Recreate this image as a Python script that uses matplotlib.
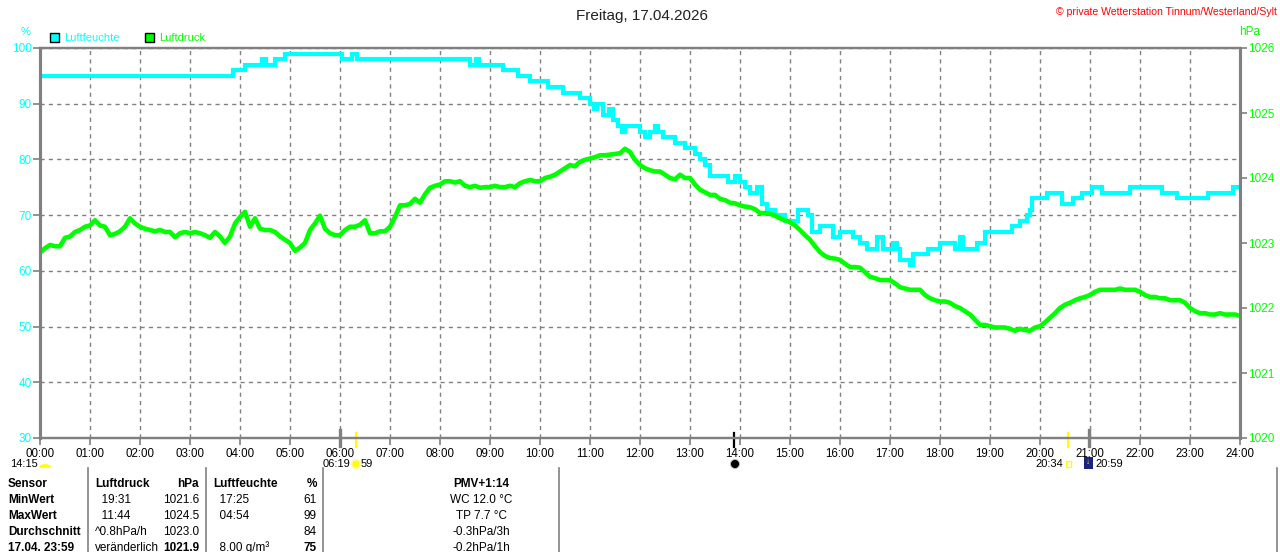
import numpy as np
import matplotlib
matplotlib.use("Agg")
import matplotlib.pyplot as plt
from matplotlib.patches import Rectangle, Ellipse, Wedge
from matplotlib.transforms import blended_transform_factory

plt.rcParams["font.family"] = ["Liberation Sans", "DejaVu Sans"]

W, H = 1280, 552
CYAN = "#00ffff"
GREEN = "#00ff00"
GRAY = "#808080"

# Luftfeuchte (%), changes of the logged value, hour of day
hum_hours = [0.00, 3.86, 4.10, 4.44, 4.52, 4.70, 4.90, 6.04, 6.24, 6.34,
             8.60, 8.72, 8.78, 9.26, 9.56, 9.80, 10.16, 10.46, 10.80, 11.00,
             11.08, 11.14, 11.26, 11.38, 11.46, 11.56, 11.64, 11.70, 12.00, 12.10,
             12.20, 12.30, 12.36, 12.46, 12.70, 12.90, 13.10, 13.20, 13.30, 13.40,
             13.76, 13.90, 14.00, 14.10, 14.20, 14.34, 14.44, 14.54, 14.70, 14.90,
             15.16, 15.36, 15.44, 15.60, 15.86, 16.00, 16.26, 16.40, 16.54, 16.74,
             16.86, 17.06, 17.14, 17.20, 17.40, 17.46, 17.60, 17.76, 18.00, 18.30,
             18.40, 18.46, 18.74, 18.90, 19.44, 19.60, 19.74, 19.80, 19.84, 20.14,
             20.44, 20.66, 20.84, 21.04, 21.24, 21.80, 22.44, 22.74, 23.36, 23.86,
             24.00]
hum_vals = [95, 96, 97, 98, 97, 98, 99, 98, 99, 98,
            97, 98, 97, 96, 95, 94, 93, 92, 91, 90,
            89, 90, 88, 89, 87, 86, 85, 86, 85, 84,
            85, 86, 85, 84, 83, 82, 81, 80, 79, 77,
            76, 77, 76, 75, 74, 75, 72, 71, 70, 69,
            71, 70, 67, 68, 66, 67, 66, 65, 64, 66,
            64, 65, 64, 62, 61, 63, 63, 64, 65, 64,
            66, 64, 65, 67, 68, 69, 70, 71, 73, 74,
            72, 73, 74, 75, 74, 75, 74, 73, 74, 75,
            75]

# Luftdruck (hPa), one reading every 6 minutes
press_hours = np.arange(0, 241) / 10
press_vals = [
    1022.85, 1022.92, 1022.97, 1022.95, 1022.95, 1023.08, 1023.10, 1023.17, 1023.20, 1023.25,
    1023.27, 1023.35, 1023.27, 1023.25, 1023.12, 1023.14, 1023.18, 1023.25, 1023.38, 1023.30,
    1023.25, 1023.22, 1023.20, 1023.18, 1023.20, 1023.17, 1023.17, 1023.09, 1023.15, 1023.17,
    1023.15, 1023.17, 1023.15, 1023.12, 1023.08, 1023.17, 1023.10, 1023.00, 1023.10, 1023.30,
    1023.40, 1023.48, 1023.25, 1023.38, 1023.22, 1023.20, 1023.20, 1023.17, 1023.10, 1023.05,
    1023.00, 1022.88, 1022.93, 1023.00, 1023.20, 1023.30, 1023.42, 1023.22, 1023.15, 1023.12,
    1023.12, 1023.20, 1023.25, 1023.25, 1023.28, 1023.35, 1023.15, 1023.15, 1023.18, 1023.18,
    1023.25, 1023.40, 1023.58, 1023.58, 1023.60, 1023.68, 1023.62, 1023.75, 1023.85, 1023.88,
    1023.90, 1023.95, 1023.95, 1023.93, 1023.95, 1023.88, 1023.86, 1023.88, 1023.85, 1023.86,
    1023.86, 1023.88, 1023.86, 1023.86, 1023.88, 1023.86, 1023.92, 1023.95, 1023.97, 1023.95,
    1023.95, 1024.00, 1024.02, 1024.05, 1024.10, 1024.15, 1024.20, 1024.18, 1024.25, 1024.28,
    1024.30, 1024.32, 1024.35, 1024.35, 1024.36, 1024.37, 1024.38, 1024.45, 1024.40, 1024.28,
    1024.20, 1024.15, 1024.12, 1024.10, 1024.10, 1024.05, 1024.00, 1023.98, 1024.05, 1024.00,
    1024.00, 1023.90, 1023.82, 1023.78, 1023.74, 1023.74, 1023.68, 1023.66, 1023.62, 1023.61,
    1023.58, 1023.56, 1023.55, 1023.52, 1023.46, 1023.46, 1023.45, 1023.42, 1023.38, 1023.35,
    1023.32, 1023.27, 1023.20, 1023.12, 1023.05, 1022.95, 1022.86, 1022.80, 1022.77, 1022.76,
    1022.74, 1022.68, 1022.63, 1022.63, 1022.62, 1022.55, 1022.48, 1022.46, 1022.43, 1022.43,
    1022.43, 1022.38, 1022.32, 1022.30, 1022.28, 1022.28, 1022.28, 1022.20, 1022.15, 1022.12,
    1022.10, 1022.10, 1022.08, 1022.03, 1022.00, 1021.95, 1021.90, 1021.82, 1021.74, 1021.74,
    1021.72, 1021.70, 1021.70, 1021.70, 1021.68, 1021.65, 1021.68, 1021.66, 1021.65, 1021.70,
    1021.72, 1021.78, 1021.85, 1021.92, 1022.00, 1022.05, 1022.08, 1022.12, 1022.15, 1022.17,
    1022.20, 1022.25, 1022.28, 1022.28, 1022.28, 1022.28, 1022.30, 1022.28, 1022.28, 1022.28,
    1022.25, 1022.20, 1022.17, 1022.17, 1022.15, 1022.15, 1022.12, 1022.12, 1022.12, 1022.08,
    1022.00, 1021.95, 1021.92, 1021.92, 1021.90, 1021.90, 1021.92, 1021.90, 1021.90, 1021.90,
    1021.88,
]

hour_labels = [f"{h:02d}:00" for h in range(25)]
hum_ticks = [30, 40, 50, 60, 70, 80, 90, 100]
press_ticks = [1020, 1021, 1022, 1023, 1024, 1025, 1026]

# sun / moon times (hours)
sunrise = 6 + 19 / 60
sunset = 20 + 34 / 60
moon_mark = 13 + 53 / 60
gray_marks = [6.0, 20 + 59 / 60]

# summary table
table_rows = [
    ["Sensor", "Luftdruck", "hPa", "Luftfeuchte", "%", "PMV+1:14"],
    ["MinWert", "  19:31", "1021.6", "  17:25", "61", "WC 12.0 °C"],
    ["MaxWert", "  11:44", "1024.5", "  04:54", "99", "TP 7.7 °C"],
    ["Durchschnitt", "^0.8hPa/h", "1023.0", "", "84", "-0.3hPa/3h"],
    ["17.04. 23:59", "veränderlich", "1021.9", "  8.00 g/m³", "75", "-0.2hPa/1h"],
]


def fx(x):
    return x / W


def fy(y):
    return 1 - y / H


def dot(x, y, d, color, **kw):
    # round mark of d pixels, given in figure pixels
    fig.patches.append(Ellipse((fx(x), fy(y)), d / W, d / H, transform=fig.transFigure,
                               facecolor=color, **kw))


fig = plt.figure(figsize=(W / 100, H / 100), dpi=100)
ax = fig.add_axes([fx(40), fy(438), 1200 / W, 390 / H])
ax2 = ax.twinx()

ax.step(hum_hours, hum_vals, where="post", color=CYAN, lw=3, solid_joinstyle="miter")
ax2.plot(press_hours, press_vals, color=GREEN, lw=3.3)

ax.set_xlim(0, 24)
ax.set_ylim(30, 100)
ax2.set_ylim(1020, 1026)
ax.set_xticks(range(25))
ax.set_xticklabels(hour_labels)
ax.set_yticks(hum_ticks)
ax2.set_yticks(press_ticks)

ax.grid(True, color=GRAY, linestyle=(0, (3, 3)), linewidth=1)
ax.tick_params(axis="x", length=5, width=1.2, color=GRAY, pad=2.5, labelsize=8.3, labelcolor="black")
ax.tick_params(axis="y", length=5, width=1.2, color=GRAY, pad=1, labelsize=8.5, labelcolor=CYAN)
ax2.tick_params(axis="y", length=5, width=1.2, color=GRAY, pad=1, labelsize=8.5, labelcolor=GREEN)

for a in (ax, ax2):
    for side, sp in a.spines.items():
        sp.set_color(GRAY)
        sp.set_linewidth(2.2 if side in ("left", "right") else 1.6)

# sunrise / sunset / moon marks at the time axis
trans = blended_transform_factory(ax.transData, ax.transAxes)
for t, c in [(sunrise, "#ffff00"), (sunset, "#ffff00"), (moon_mark, "black")]:
    ax.plot([t, t], [0.012, -0.024], color=c, lw=1.6, transform=trans, clip_on=False)
for t in gray_marks:
    ax.plot([t, t], [0.02, -0.02], color=GRAY, lw=2.4, transform=trans, clip_on=False)

# header texts
fig.text(fx(642), fy(16), "Freitag, 17.04.2026", ha="center", va="center", fontsize=11, color="#222222")
fig.text(fx(1277), fy(12), "© private Wetterstation Tinnum/Westerland/Sylt", ha="right", va="center",
         fontsize=7.6, color="red")
fig.text(fx(26), fy(32), "%", ha="center", va="center", fontsize=8, color=CYAN)
fig.text(fx(1250), fy(32), "hPa", ha="center", va="center", fontsize=8.5, color=GREEN)

fig.patches.append(Rectangle((fx(50), fy(42)), 9 / W, 9 / H, transform=fig.transFigure,
                             facecolor=CYAN, edgecolor="black", lw=1))
fig.text(fx(64), fy(38), "Luftfeuchte", ha="left", va="center", fontsize=8, color=CYAN)
fig.patches.append(Rectangle((fx(145), fy(42)), 9 / W, 9 / H, transform=fig.transFigure,
                             facecolor=GREEN, edgecolor="black", lw=1))
fig.text(fx(159), fy(38), "Luftdruck", ha="left", va="center", fontsize=8, color=GREEN)

# sun / moon info under the axis
fs_info = 8
fig.text(fx(10), fy(464), "14:15", ha="left", va="center", fontsize=fs_info)
fig.patches.append(Wedge((fx(45), fy(467)), 5 / W, 0, 180, transform=fig.transFigure, color="#ffff00"))
fig.text(fx(350), fy(464), "06:19", ha="right", va="center", fontsize=fs_info)
dot(356, 464, 10, "#fff7a0", edgecolor="none")
dot(356, 464, 7, "#ffff00", edgecolor="none")
fig.text(fx(361), fy(464), "59", ha="left", va="center", fontsize=fs_info)
dot(735, 464, 9, "black", edgecolor="#bbbbbb", lw=0.6)
fig.text(fx(1063), fy(464), "20:34", ha="right", va="center", fontsize=fs_info)
fig.patches.append(Rectangle((fx(1066), fy(467)), 5 / W, 6 / H, transform=fig.transFigure,
                             facecolor="none", edgecolor="#ffff00", lw=1))
fig.patches.append(Rectangle((fx(1084), fy(469)), 9 / W, 12 / H, transform=fig.transFigure,
                             facecolor="#1a237e", edgecolor="none"))
fig.text(fx(1088), fy(462), "↓", ha="center", va="center", fontsize=6, color="#ffff00", fontweight="bold")
fig.text(fx(1095), fy(464), "20:59", ha="left", va="center", fontsize=fs_info)

# summary table
for xl in [88, 206, 323, 559, 1277]:
    fig.add_artist(plt.Line2D([fx(xl), fx(xl)], [fy(468), fy(552)], transform=fig.transFigure,
                              color=GRAY, lw=1.2))

row_y = [484, 500, 516, 532, 548]
for i, row in enumerate(table_rows):
    y = fy(row_y[i])
    head = i == 0
    fig.text(fx(8), y, row[0], ha="left", va="center", fontsize=8.5, fontweight="bold")
    fig.text(fx(95), y, row[1], ha="left", va="center", fontsize=8.5, fontweight="bold" if head else "normal")
    fig.text(fx(199), y, row[2], ha="right", va="center", fontsize=8.5,
             fontweight="bold" if head or i == 4 else "normal")
    fig.text(fx(213), y, row[3], ha="left", va="center", fontsize=8.5, fontweight="bold" if head else "normal")
    fig.text(fx(317), y, row[4], ha="right", va="center", fontsize=8.5,
             fontweight="bold" if head or i == 4 else "normal")
    fig.text(fx(481), y, row[5], ha="center", va="center", fontsize=8.5, fontweight="bold" if head else "normal")

fig.savefig("out.png", dpi=100, facecolor="white")
